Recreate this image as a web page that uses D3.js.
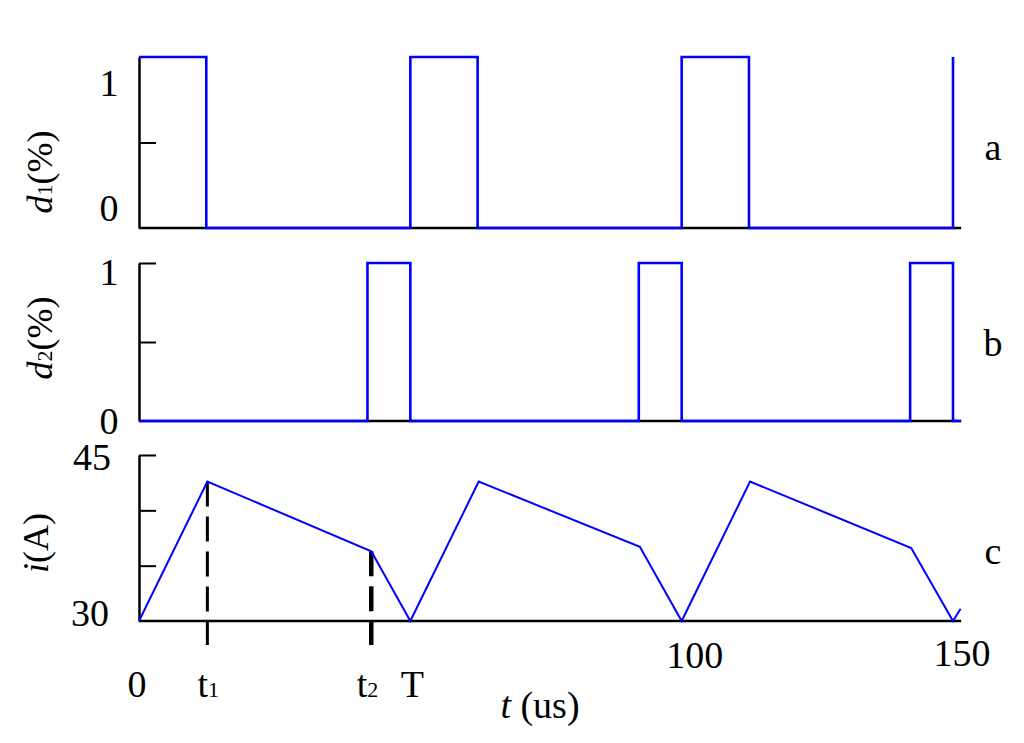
<!DOCTYPE html>
<html>
<head>
<meta charset="utf-8">
<script src="https://cdn.jsdelivr.net/npm/d3@7"></script>
<style>
  html, body { margin: 0; padding: 0; background: #fff; }
  svg { display: block; }
  text { font-family: "Liberation Serif", "Times New Roman", serif; fill: #000; }
</style>
</head>
<body>
<svg id="chart" width="1024" height="743"></svg>
<script>
// ---------------- data ----------------
const T_END = 151.5;                         // end of drawn time window (us)
const d1Times  = [0, 12.4, 50, 62.4, 100, 112.4, 150];
const d1Values = [1, 0, 1, 0, 1, 0, 1];
const d2Times  = [0, 42.1, 50, 92.1, 100, 142.1, 150, 151.5];
const d2Values = [0, 1, 0, 1, 0, 1, 0, 0];
const iTimes   = [0, 12.6, 42.8, 50, 62.6, 92.3, 100, 112.6, 142.3, 150, 151.4];
const iValues  = [30, 42.6, 36.3, 30, 42.6, 36.7, 30, 42.6, 36.6, 30, 31.1];
const dashTimes = [12.6, 42.8];               // t1, t2 markers
const dashTops  = [42.6, 36.3];
const xTickValues = [0, 12.4, 42.1, 50, 100, 150];
const xTickLabels = ["0", "t1", "t2", "T", "100", "150"];
const dTicks = [0, 1];
const dMidTick = 0.5;
const iTicks = [30, 45];
const iMinorTicks = [35, 40, 45];
const panelLetters = ["a", "b", "c"];

// ---------------- layout ----------------
const svg = d3.select("#chart");
const x = d3.scaleLinear().domain([0, 150]).range([139, 953]);
const yA = d3.scaleLinear().domain([0, 1]).range([228, 57]);
const yB = d3.scaleLinear().domain([0, 1]).range([421, 263]);
const yC = d3.scaleLinear().domain([30, 45]).range([621, 455]);
const blue = "#0000ff";
const FS = 38;

function stepLine(times, vals, y) {
  const pts = times.map((t, i) => [t, vals[i]]);
  return d3.line().x(d => x(d[0])).y(d => y(d[1])).curve(d3.curveStepAfter)(pts);
}

// axes
function drawAxes(y, tickVals) {
  const g = svg.append("g").attr("transform", `translate(${x(0)},0)`);
  const ax = d3.axisRight(y).tickValues(tickVals).tickSizeInner(17).tickSizeOuter(0).tickFormat("");
  g.call(ax);
  g.selectAll("path.domain").attr("stroke", "#000").attr("stroke-width", 2.5);
  g.selectAll(".tick line").attr("stroke", "#000").attr("stroke-width", 2);
  svg.append("line")
    .attr("x1", x(0)).attr("x2", x(T_END))
    .attr("y1", y.range()[0]).attr("y2", y.range()[0])
    .attr("stroke", "#000").attr("stroke-width", 2.5);
}
drawAxes(yA, [dMidTick]);
drawAxes(yB, [dMidTick, 1]);
drawAxes(yC, iMinorTicks);

// dashed markers t1, t2
dashTimes.forEach((t, i) => {
  svg.append("line")
    .attr("x1", x(t)).attr("x2", x(t))
    .attr("y1", yC(dashTops[i])).attr("y2", 645)
    .attr("stroke", "#000").attr("stroke-width", i === 0 ? 3 : 4.5)
    .attr("stroke-dasharray", "25,10");
});

// signals
svg.append("path").attr("d", stepLine(d1Times, d1Values, yA))
  .attr("fill", "none").attr("stroke", blue).attr("stroke-width", 2.6);
svg.append("path").attr("d", stepLine(d2Times, d2Values, yB))
  .attr("fill", "none").attr("stroke", blue).attr("stroke-width", 2.6);
svg.append("path")
  .attr("d", d3.line().x((d, i) => x(iTimes[i])).y((d, i) => yC(iValues[i]))(iTimes))
  .attr("fill", "none").attr("stroke", blue).attr("stroke-width", 2);

// y tick labels
const yLab = [
  {y: yA, v: 1, dy: 26}, {y: yA, v: 0, dy: -20},
  {y: yB, v: 1, dy: 9},  {y: yB, v: 0, dy: 0},
];
yLab.forEach(o => {
  svg.append("text").attr("x", 109).attr("y", o.y(o.v) + o.dy)
    .attr("text-anchor", "middle").attr("dominant-baseline", "central")
    .attr("font-size", FS).text(o.v);
});
[{v: 45, dy: 2, cx: 92}, {v: 30, dy: -8, cx: 90}].forEach(o => {
  svg.append("text").attr("x", o.cx).attr("y", yC(o.v) + o.dy)
    .attr("text-anchor", "middle").attr("dominant-baseline", "central")
    .attr("font-size", FS).text(o.v);
});

// y axis titles
function yTitle(cx, cy, main, sub, rest) {
  const t = svg.append("text")
    .attr("transform", `translate(${cx},${cy}) rotate(-90)`)
    .attr("text-anchor", "middle").attr("dominant-baseline", "central")
    .attr("font-size", 36);
  t.append("tspan").attr("font-style", "italic").text(main);
  if (sub) t.append("tspan").attr("font-size", 22).attr("dy", 4).text(sub);
  t.append("tspan").attr("dy", sub ? -4 : 0).text(rest);
}
yTitle(40, 172, "d", "1", "(%)");
yTitle(40, 338, "d", "2", "(%)");
yTitle(36, 543, "i", null, "(A)");

// x tick labels
const xLabOffsets = [{dx: -2, y: 697}, {dx: 2, y: 697}, {dx: 0, y: 697}, {dx: 2, y: 697}, {dx: 13, y: 668}, {dx: 9, y: 666}];
xTickValues.forEach((v, i) => {
  const lab = xTickLabels[i];
  const t = svg.append("text")
    .attr("x", x(v) + xLabOffsets[i].dx).attr("y", xLabOffsets[i].y)
    .attr("text-anchor", "middle").attr("font-size", FS);
  if (lab.length === 2 && lab[0] === "t") {
    t.append("tspan").text("t");
    t.append("tspan").attr("font-size", 22).text(lab[1]);
  } else {
    t.text(lab);
  }
});

// x axis title
const xt = svg.append("text").attr("x", 540).attr("y", 718)
  .attr("text-anchor", "middle").attr("font-size", FS);
xt.append("tspan").attr("font-style", "italic").text("t");
xt.append("tspan").text(" (us)");

// panel letters
[yA, yB, yC].forEach((y, i) => {
  const cy = [147, 343, 551][i];
  svg.append("text").attr("x", 993).attr("y", cy)
    .attr("text-anchor", "middle").attr("dominant-baseline", "central")
    .attr("font-size", FS).text(panelLetters[i]);
});
</script>
</body>
</html>
